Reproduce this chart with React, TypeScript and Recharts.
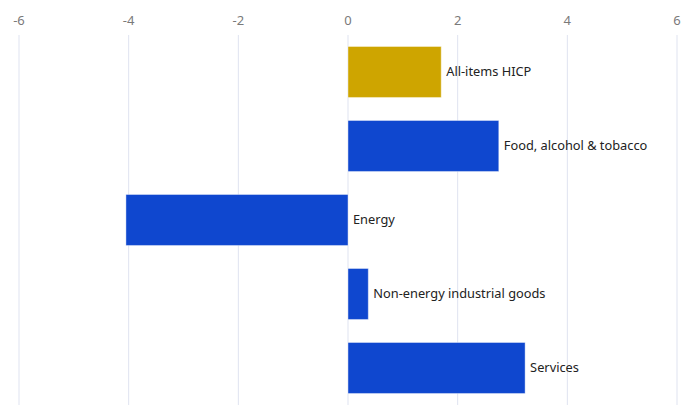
import { BarChart, Bar, XAxis, YAxis, CartesianGrid, Cell, LabelList } from 'recharts';

// HICP components, annual rate of change (%)
const categories = [
  'All-items HICP',
  'Food, alcohol & tobacco',
  'Energy',
  'Non-energy industrial goods',
  'Services',
];
const values = [1.7, 2.75, -4.05, 0.37, 3.23];
const barColors = ['#cea500', '#0f47cf', '#0f47cf', '#0f47cf', '#0f47cf'];
const xTicks = [-6, -4, -2, 0, 2, 4, 6];

const data = categories.map((name, i) => ({ name, value: values[i] }));

// label sits just right of the bar end, or right of zero for negatives
const BarLabel = (props: any) => {
  const { x, y, width, height, value } = props;
  const right = Math.max(x, x + width);
  return (
    <text
      x={right + 5}
      y={y + height / 2}
      dy="0.35em"
      fill="#222"
      fontSize={12.8}
      fontFamily="'Noto Sans', sans-serif"
    >
      {value}
    </text>
  );
};

export default function App() {
  return (
    <div style={{ position: 'absolute', left: 0, top: 0, background: '#fff' }}>
      <BarChart
        width={695}
        height={418}
        data={data}
        layout="vertical"
        margin={{ top: 0, right: 18, bottom: 13, left: 19 }}
        barCategoryGap="15.5%"
      >
        <CartesianGrid horizontal={false} stroke="#dfe3f0" />
        <XAxis
          type="number"
          orientation="top"
          domain={[-6, 6]}
          ticks={xTicks}
          height={35}
          axisLine={false}
          tickLine={false}
          tickMargin={4}
          tick={{ fill: '#7a7a7a', fontSize: 13, fontFamily: "'Noto Sans', sans-serif" }}
        />
        <YAxis type="category" dataKey="name" hide />
        <Bar
          dataKey="value"
          isAnimationActive={false}
          stroke="#ffffff"
          strokeOpacity={0.4}
          strokeWidth={1}
        >
          {data.map((d, i) => (
            <Cell key={d.name} fill={barColors[i]} />
          ))}
          <LabelList dataKey="name" content={<BarLabel />} />
        </Bar>
      </BarChart>
    </div>
  );
}
